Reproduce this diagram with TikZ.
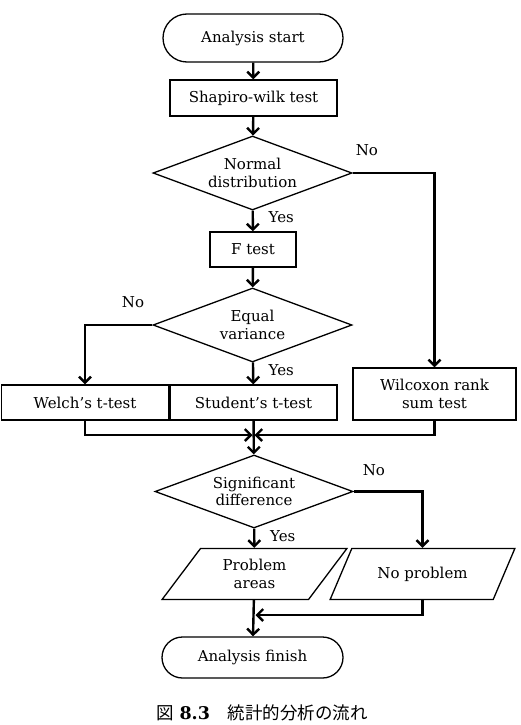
\documentclass[tikz,border=0pt]{standalone}
\usepackage{fontspec}
\setmainfont{DejaVu Serif}
\newfontfamily\jpfont{Noto Sans CJK JP}
\usetikzlibrary{shapes.geometric, arrows.meta}
\newcommand{\nodefont}{\fontsize{15}{17.5}\selectfont}
\tikzset{
    term/.style={rectangle, draw, line width=1.3pt, text centered, font=\nodefont},
    box/.style={rectangle, draw, line width=1.3pt, align=center, font=\nodefont},
    decision/.style={diamond, aspect=2.7, draw, line width=1.3pt, minimum width=199pt, minimum height=74pt, inner sep=0pt, align=center, font=\nodefont},
    io/.style={trapezium, trapezium left angle=55, trapezium right angle=125, trapezium stretches=true, draw, line width=1.3pt, minimum width=185pt, minimum height=51pt, align=center, font=\nodefont},
    arrow/.style={line width=2.4pt, -{Straight Barb[length=6pt,width=12pt]}},
    lbl/.style={font=\nodefont, inner sep=0pt}
}

\begin{document}
\begin{tikzpicture}[x=1pt, y=-1pt]
    \path[use as bounding box, fill=white] (0,0) rectangle (520,725);

    \node (start) [term, minimum width=180pt, minimum height=48pt, rounded corners=24pt] at (253,38) {Analysis start};
    \node (shapiro) [box, minimum width=167pt, minimum height=36pt] at (253.5,98) {Shapiro-wilk test};
    \node (normal) [decision] at (252.5,173) {Normal\\distribution};
    \node (ftest) [box, minimum width=86pt, minimum height=35pt] at (253,249.5) {F test};
    \node (eqvar) [decision] at (252.5,325) {Equal\\variance};
    \node (welch) [box, minimum width=167pt, minimum height=35pt] at (85,402.5) {Welch’s t-test};
    \node (student) [box, minimum width=167pt, minimum height=35pt] at (253.5,402.5) {Student’s t-test};
    \node (wilcoxon) [box, minimum width=163pt, minimum height=52pt] at (434.5,394) {Wilcoxon rank\\sum test};
    \node (sig) [decision, minimum width=198pt, minimum height=73pt] at (254,491.5) {Significant\\difference};
    \node (problem) [io] at (254.5,574) {Problem\\areas};
    \node (noprob) [io] at (422.5,574) {No problem};
    \node (finish) [term, minimum width=181pt, minimum height=41pt, rounded corners=20.5pt] at (252.5,657.5) {Analysis finish};
    \coordinate (merge) at (253.5,435);
    \coordinate (join) at (254.5,615);

    % labels
    \node [lbl, anchor=west] at ([shift={(3,-23)}]normal.east) {No};
    \node [lbl, anchor=west] at ([shift={(16,6)}]normal.south) {Yes};
    \node [lbl, anchor=east] at ([shift={(-8,-23)}]eqvar.west) {No};
    \node [lbl, anchor=west] at ([shift={(16,7)}]eqvar.south) {Yes};
    \node [lbl, anchor=west] at ([shift={(9,-21)}]sig.east) {No};
    \node [lbl, anchor=west] at ([shift={(16,7)}]sig.south) {Yes};

    \draw [arrow] (start) -- (shapiro);
    \draw [arrow] (shapiro) -- (normal);
    \draw [arrow] (normal) -- (ftest);
    \draw [arrow] (normal.east) -| (wilcoxon.north);
    \draw [arrow] (ftest) -- (eqvar);
    \draw [arrow] (eqvar.west) -| (welch.north);
    \draw [arrow] (eqvar) -- (student);
    \draw [arrow] (student) -- (sig);
    \draw [arrow, shorten >=1pt] (welch.south) |- (merge);
    \draw [arrow, shorten >=1pt] (wilcoxon.south) |- (merge);
    \draw [arrow] (sig) -- (problem);
    \draw [arrow] (sig.east) -| (noprob.north);
    \draw [arrow] (problem) -- (finish);
    \draw [arrow, shorten >=1pt] (noprob.south) |- (join);

    \node (caption) [font=\fontsize{17.5}{20}\selectfont] at (262,713) {{\jpfont 図}\ \textbf{8.3}\quad{\jpfont 統計的分析の流れ}};
\end{tikzpicture}
\end{document}
